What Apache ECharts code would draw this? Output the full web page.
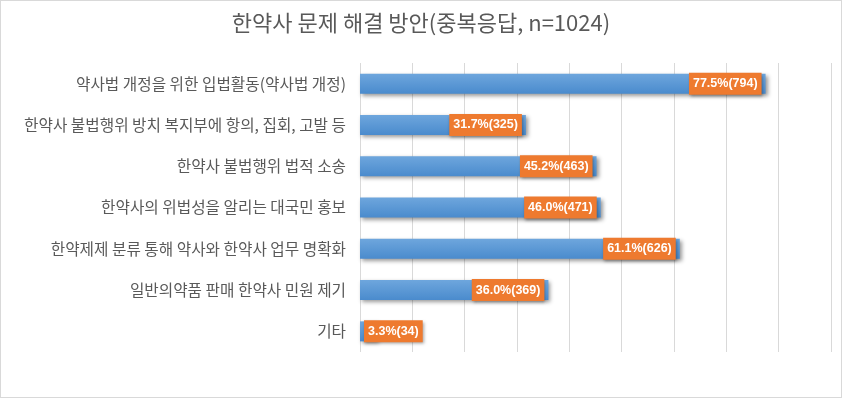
<!DOCTYPE html>
<html>
<head>
<meta charset="utf-8">
<script src="https://cdn.jsdelivr.net/npm/echarts@6/dist/echarts.min.js"></script>
<style>
html,body{margin:0;padding:0;background:#fff;}
#chart{width:842px;height:398px;box-sizing:border-box;border:1px solid #d9d9d9;}
</style>
</head>
<body>
<div id="chart"></div>
<script>
var titleText = '한약사 문제 해결 방안(중복응답, n=1024)';
var categories = [
  '약사법 개정을 위한 입법활동(약사법 개정)',
  '한약사 불법행위 방치 복지부에 항의, 집회, 고발 등',
  '한약사 불법행위 법적 소송',
  '한약사의 위법성을 알리는 대국민 홍보',
  '한약제제 분류 통해 약사와 한약사 업무 명확화',
  '일반의약품 판매 한약사 민원 제기',
  '기타'
];
var percents = [77.5, 31.7, 45.2, 46.0, 61.1, 36.0, 3.3];
var counts = [794, 325, 463, 471, 626, 369, 34];

var chart = echarts.init(document.getElementById('chart'), null, {renderer: 'canvas'});
var data = percents.map(function (v, i) {
  var item = {value: v};
  if (v < 10) {
    item.label = {position: 'insideLeft', distance: 4};
  }
  return item;
});
chart.setOption({
  animation: false,
  title: {
    text: titleText,
    left: 'center',
    top: 6,
    textStyle: {fontFamily: 'Noto Sans CJK KR', fontSize: 22, fontWeight: 'normal', color: '#595959'}
  },
  grid: {left: 359, right: 10, top: 62, bottom: 45, containLabel: false},
  xAxis: {
    type: 'value',
    min: 0,
    max: 90,
    interval: 10,
    axisLabel: {show: false},
    axisLine: {show: false},
    axisTick: {show: false},
    splitLine: {show: true, lineStyle: {color: '#d9d9d9', width: 1}}
  },
  yAxis: {
    type: 'category',
    data: categories,
    inverse: true,
    axisLine: {show: false},
    axisTick: {show: false},
    axisLabel: {
      margin: 14,
      fontFamily: 'Noto Sans CJK KR',
      fontSize: 15.7,
      color: '#595959'
    }
  },
  series: [{
    type: 'bar',
    data: data,
    barWidth: 20,
    itemStyle: {
      color: new echarts.graphic.LinearGradient(0, 0, 0, 1, [
        {offset: 0, color: '#6ea6dd'},
        {offset: 1, color: '#4a8bcd'}
      ]),
      shadowColor: 'rgba(0,0,0,0.4)',
      shadowBlur: 4,
      shadowOffsetX: 2,
      shadowOffsetY: 2
    },
    label: {
      show: true,
      position: 'insideRight',
      distance: 4,
      formatter: function (p) {
        return percents[p.dataIndex].toFixed(1) + '%(' + counts[p.dataIndex] + ')';
      },
      fontFamily: 'Liberation Sans',
      fontWeight: 'bold',
      fontSize: 12.5,
      color: '#ffffff',
      backgroundColor: '#ee7a2f',
      padding: [5, 4, 4, 4],
      shadowColor: 'rgba(0,0,0,0.35)',
      shadowBlur: 3,
      shadowOffsetX: 1,
      shadowOffsetY: 2
    }
  }]
});
</script>
</body>
</html>
